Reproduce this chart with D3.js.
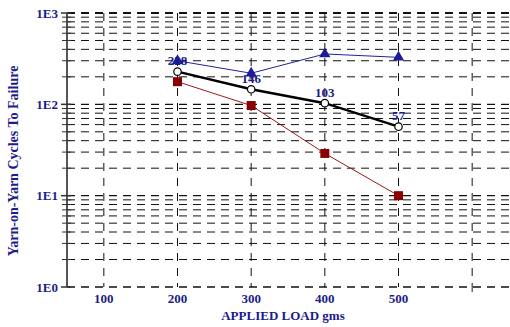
<!DOCTYPE html>
<html><head><meta charset="utf-8">
<script src="https://cdn.jsdelivr.net/npm/d3@7"></script>
<style>body{margin:0;background:#fff}svg{display:block}text{font-family:"Liberation Serif","Times New Roman",serif;font-weight:bold;fill:#1c1c8a}</style>
</head><body><svg id="c" width="510" height="327"></svg>
<script>
const loads = [200, 300, 400, 500];
const blueTri = [300, 219, 356, 327];
const blackMean = [228, 146, 103, 57];
const redSq = [177, 97, 29, 10];
const meanLabels = ["228", "146", "103", "57"];
const xTicks = [100, 200, 300, 400, 500, 600];
const xTickLabels = ["100", "200", "300", "400", "500", ""];
const yMajor = [1, 10, 100, 1000];
const yMajorLabels = ["1E0", "1E1", "1E2", "1E3"];

const svg = d3.select("#c");
const L = 67, R = 509, T = 13, B = 287;
const x = d3.scaleLinear().domain([50, 650]).range([L, R]);
const y = d3.scaleLog().domain([1, 1000]).range([B, T]);

const minors = [];
for (let d = 1; d < 1000; d *= 10) for (let k = 2; k <= 9; k++) minors.push(d * k);

const g = svg.append("g");
g.selectAll("line.hm").data(minors).join("line")
  .attr("x1", L).attr("x2", 510).attr("y1", d => y(d)).attr("y2", d => y(d))
  .attr("stroke", "#111").attr("stroke-width", 1).attr("stroke-dasharray", "8,6");
g.selectAll("line.hM").data(yMajor).join("line")
  .attr("x1", L).attr("x2", 510).attr("y1", d => y(d)).attr("y2", d => y(d))
  .attr("stroke", "#111").attr("stroke-width", d => d === 1000 ? 2 : 1.3).attr("stroke-dasharray", "8,6");
g.selectAll("line.v").data(xTicks).join("line")
  .attr("x1", d => x(d)).attr("x2", d => x(d)).attr("y1", T).attr("y2", B)
  .attr("stroke", "#111").attr("stroke-width", 1).attr("stroke-dasharray", "8,7");
g.selectAll("line.xt").data(xTicks.filter((d, i) => !xTickLabels[i])).join("line")
  .attr("x1", d => x(d)).attr("x2", d => x(d)).attr("y1", B).attr("y2", B + 5)
  .attr("stroke", "#222").attr("stroke-width", 1);
g.append("line").attr("x1", L).attr("x2", L).attr("y1", T).attr("y2", B)
  .attr("stroke", "#555").attr("stroke-width", 2);
g.selectAll("line.ytm").data(minors).join("line")
  .attr("x1", L - 5).attr("x2", L + 4).attr("y1", d => y(d)).attr("y2", d => y(d))
  .attr("stroke", "#333").attr("stroke-width", 1);
g.selectAll("line.ytM").data(yMajor).join("line")
  .attr("x1", L - 6).attr("x2", L + 4).attr("y1", d => y(d)).attr("y2", d => y(d))
  .attr("stroke", "#333").attr("stroke-width", 1.5);

g.selectAll("text.yl").data(yMajor).join("text")
  .attr("x", 58).attr("y", d => y(d) + 4.5).attr("text-anchor", "end")
  .attr("font-size", 13).text((d, i) => yMajorLabels[i]);
g.selectAll("text.xl").data(xTicks).join("text")
  .attr("x", d => x(d)).attr("y", 303).attr("text-anchor", "middle")
  .attr("font-size", 13).text((d, i) => xTickLabels[i]);
svg.append("text").attr("x", 283).attr("y", 320).attr("text-anchor", "middle")
  .attr("font-size", 13).text("APPLIED LOAD gms");
svg.append("text").attr("transform", "translate(18,161) rotate(-90)")
  .attr("text-anchor", "middle").attr("font-size", 14).text("Yarn-on-Yarn Cycles To Failure");

const line = vals => d3.line().x((d, i) => x(loads[i])).y(d => y(d))(vals);
svg.append("path").attr("d", line(blueTri)).attr("fill", "none").attr("stroke", "#22229a").attr("stroke-width", 1);
svg.selectAll("path.tri").data(blueTri).join("path")
  .attr("transform", (d, i) => `translate(${x(loads[i])},${y(d)})`)
  .attr("d", d3.symbol(d3.symbolTriangle, 55)()).attr("fill", "#1c1c9a");
svg.append("path").attr("d", line(redSq)).attr("fill", "none").attr("stroke", "#9a1a1a").attr("stroke-width", 1);
svg.selectAll("rect.sq").data(redSq).join("rect")
  .attr("x", (d, i) => x(loads[i]) - 4.5).attr("y", d => y(d) - 4.5)
  .attr("width", 9).attr("height", 9).attr("fill", "#8a0000");
svg.append("path").attr("d", line(blackMean)).attr("fill", "none").attr("stroke", "#000").attr("stroke-width", 2.5);
svg.selectAll("circle.m").data(blackMean).join("circle")
  .attr("cx", (d, i) => x(loads[i])).attr("cy", d => y(d)).attr("r", 3.7)
  .attr("fill", "#fff").attr("stroke", "#000").attr("stroke-width", 1.2);
svg.selectAll("text.ml").data(blackMean).join("text")
  .attr("x", (d, i) => x(loads[i])).attr("y", d => y(d) - 6.5).attr("text-anchor", "middle")
  .attr("font-size", 13).text((d, i) => meanLabels[i]);
</script></body></html>
